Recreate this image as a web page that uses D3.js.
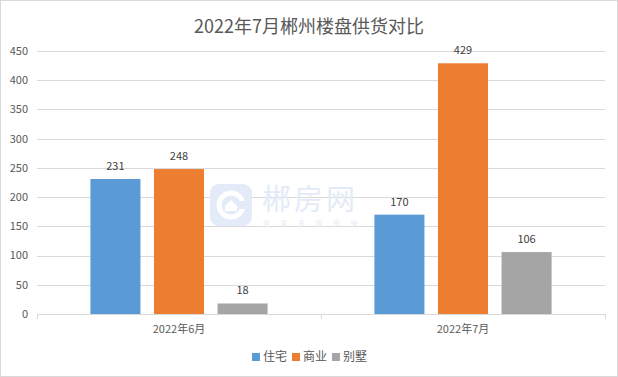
<!DOCTYPE html>
<html>
<head>
<meta charset="utf-8">
<script src="https://cdn.jsdelivr.net/npm/d3@7"></script>
<style>
  body { margin: 0; background: #fff; }
  svg { display: block; font-family: "Noto Sans CJK SC", "Noto Sans", sans-serif; }
</style>
</head>
<body>
<svg width="618" height="377"></svg>
<script>
"use strict"

const categories = ["2022年6月", "2022年7月"]
const seriesNames = ["住宅", "商业", "别墅"]
const seriesColors = ["#5b9bd5", "#ed7d31", "#a5a5a5"]
const values = {
    "住宅": [231, 170],
    "商业": [248, 429],
    "别墅": [18, 106]
}
const yTicks = [0, 50, 100, 150, 200, 250, 300, 350, 400, 450]
const title = "2022年7月郴州楼盘供货对比"

const margin = {left: 37, right: 13, top: 51, bottom: 63}
const width = 618 - margin.left - margin.right
const height = 377 - margin.top - margin.bottom

const svg = d3.select("svg")

// outer border
svg.append("rect")
    .attr("x", 0.5).attr("y", 0.5)
    .attr("width", 617).attr("height", 376)
    .attr("fill", "#fff")
    .attr("stroke", "#d9d9d9")

svg.append("text")
    .attr("x", 309).attr("y", 33)
    .attr("text-anchor", "middle")
    .style("font-size", "18px")
    .style("fill", "#595959")
    .text(title)

const x0 = d3.scaleBand().domain(categories).range([0, width]).padding(0)
const x1 = d3.scaleBand().domain(seriesNames).range([0, x0.bandwidth()])
    .paddingInner(0.213).paddingOuter(0.84)
const y = d3.scaleLinear().domain([0, 450]).range([height, 0])

const g = svg.append("g")
    .attr("transform", "translate(" + margin.left + "," + margin.top + ")")

// gridlines
g.selectAll(".grid")
    .data(yTicks.slice(1))
    .enter()
    .append("line")
    .attr("x1", 0).attr("x2", width)
    .attr("y1", d => Math.round(y(d)) + 0.5)
    .attr("y2", d => Math.round(y(d)) + 0.5)
    .attr("stroke", "#d9d9d9")

// y labels
g.selectAll(".ylab")
    .data(yTicks)
    .enter()
    .append("text")
    .attr("x", -9)
    .attr("y", d => y(d))
    .attr("dy", "0.35em")
    .attr("text-anchor", "end")
    .style("font-size", "11px")
    .style("fill", "#595959")
    .text(d => d)

// watermark
const wm = g.append("g").attr("transform", "translate(" + (210 - margin.left) + "," + (184 - margin.top) + ")")
wm.append("rect").attr("width", 42).attr("height", 42).attr("rx", 9).attr("fill", "#e3ebf8")
wm.append("circle").attr("cx", 21).attr("cy", 21).attr("r", 12).attr("fill", "none")
    .attr("stroke", "#fff").attr("stroke-width", 5)
wm.append("rect").attr("x", 27).attr("y", 17).attr("width", 10).attr("height", 8).attr("fill", "#e3ebf8")
wm.append("path").attr("d", "M15,22 L21,16 L27,22 L27,27 L15,27 Z").attr("fill", "#fff")
wm.append("text").attr("x", 52).attr("y", 26)
    .style("font-size", "29px").style("fill", "#e3ebf8").style("letter-spacing", "3px")
    .text("郴房网")
wm.append("text").attr("x", 53).attr("y", 42)
    .style("font-size", "7px").style("fill", "#e3ebf8").style("letter-spacing", "10.5px")
    .text("信息多找房快")

// bars
const groups = g.selectAll(".grp")
    .data(categories)
    .enter()
    .append("g")
    .attr("transform", d => "translate(" + x0(d) + ",0)")

groups.each(function(cat, ci) {
    const sel = d3.select(this)
    seriesNames.forEach(function(s, si) {
        const v = values[s][ci]
        sel.append("rect")
            .attr("x", x1(s))
            .attr("y", y(v))
            .attr("width", x1.bandwidth())
            .attr("height", height - y(v))
            .style("fill", seriesColors[si])
        sel.append("text")
            .attr("x", x1(s) + x1.bandwidth() / 2)
            .attr("y", y(v) - 9)
            .attr("text-anchor", "middle")
            .style("font-size", "11px")
            .style("fill", "#404040")
            .text(v)
    })
})

// x axis
const xAxis = g.append("g").attr("transform", "translate(0," + height + ")")
xAxis.append("line").attr("x1", 0).attr("x2", width).attr("y1", 0.5).attr("y2", 0.5).attr("stroke", "#d9d9d9")
xAxis.selectAll(".tk")
    .data([0, x0.bandwidth(), width])
    .enter()
    .append("line")
    .attr("x1", d => Math.round(d) + 0.5).attr("x2", d => Math.round(d) + 0.5)
    .attr("y1", 0).attr("y2", 5)
    .attr("stroke", "#d9d9d9")
xAxis.selectAll(".xlab")
    .data(categories)
    .enter()
    .append("text")
    .attr("x", d => x0(d) + x0.bandwidth() / 2)
    .attr("y", 19)
    .attr("text-anchor", "middle")
    .style("font-size", "11px")
    .style("fill", "#595959")
    .text(d => d)

// legend
const legendX = [252, 292, 332]
const legend = svg.append("g")
seriesNames.forEach(function(s, i) {
    legend.append("rect")
        .attr("x", legendX[i]).attr("y", 353)
        .attr("width", 8).attr("height", 8)
        .style("fill", seriesColors[i])
    legend.append("text")
        .attr("x", legendX[i] + 11).attr("y", 357)
        .attr("dy", "0.35em")
        .style("font-size", "12px")
        .style("fill", "#595959")
        .text(s)
})
</script>
</body>
</html>
